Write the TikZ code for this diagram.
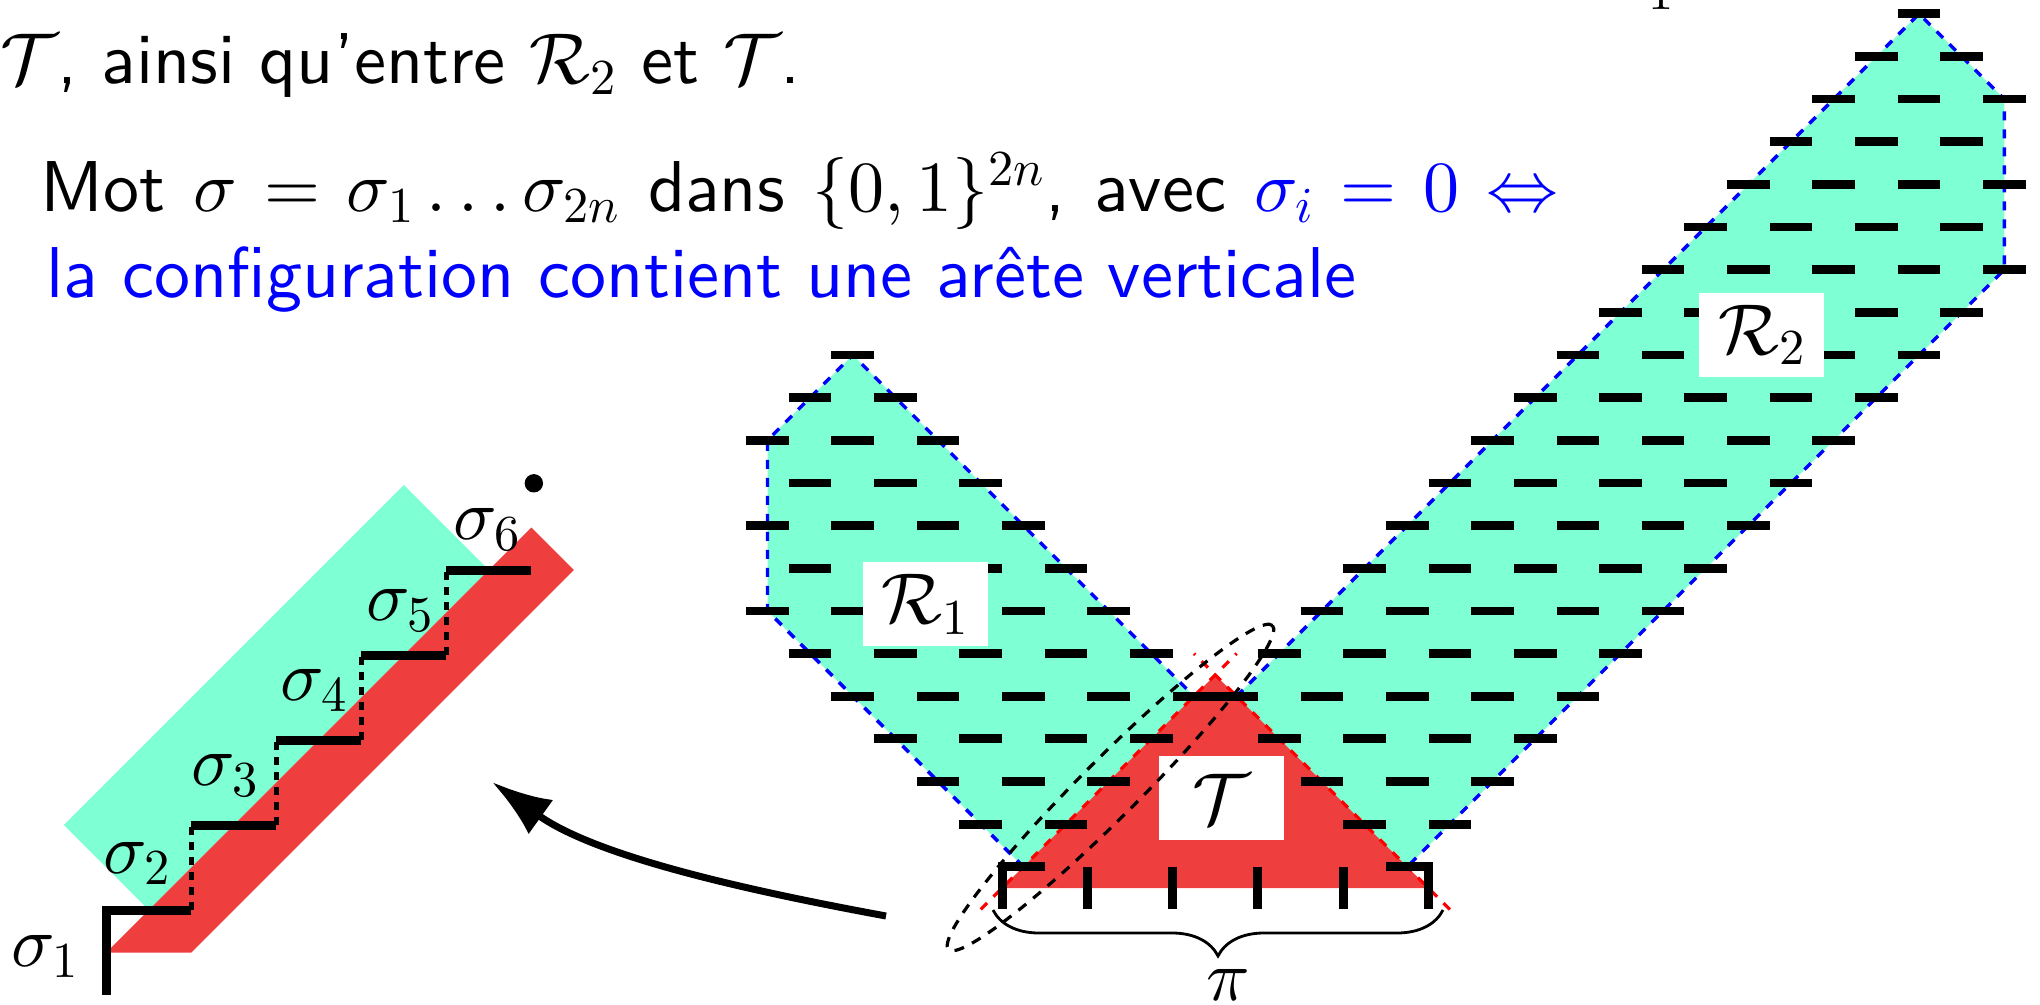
\documentclass[tikz,border=0pt]{standalone}
\usepackage{fix-cm}
\usepackage{fontspec}
\setsansfont{lmsans10-regular.otf}
\DeclareFontShape{OML}{cmm}{m}{it}{<->cmmi10}{}
\DeclareFontShape{OMS}{cmsy}{m}{n}{<->cmsy10}{}
\DeclareFontShape{OT1}{cmr}{m}{n}{<->cmr10}{}
\usetikzlibrary{arrows.meta,decorations.pathreplacing}
\definecolor{aquam}{RGB}{127,255,212}
\definecolor{tred}{RGB}{238,62,62}
\newcommand\bigsf{\fontsize{36}{43}\selectfont\sffamily}
\newcommand\bigmath{\fontsize{36}{43}\selectfont}
\begin{document}
\begin{tikzpicture}[x=0.5pt,y=-0.5pt,
  dsh/.style={line width=4.4pt},
  tickbar/.style={line width=4.5pt},
  bnd/.style={blue, line width=1.7pt, dash pattern=on 4.5pt off 4.5pt},
  rdl/.style={red, line width=1.6pt, dash pattern=on 4.5pt off 4.5pt},
  riser/.style={line width=2.6pt, dash pattern=on 4pt off 3.5pt},
  lbl/.style={fill=white, inner sep=0pt, minimum width=62.5pt, minimum height=42pt, font=\bigmath},
  txt/.style={anchor=base west, inner sep=0pt, font=\bigsf}]
\useasboundingbox (0,0) rectangle (2040,1005);

% ---------- text ----------
\node[txt] (l1) at (0,84) {$\mathcal{T}$, ainsi qu'entre $\mathcal{R}_2$ et $\mathcal{T}$.};
\node[txt] (l2) at (40,212) {\parbox[b]{759pt}{\parfillskip=0pt Mot $\sigma=\sigma_1\ldots\sigma_{2n}$ dans $\{0,1\}^{2n}$, avec \textcolor{blue}{$\sigma_i=0\Leftrightarrow$}}};
\node[txt, text=blue] (l3) at (46,298) {la configuration contient une arête verticale};
\node[anchor=base, inner sep=0pt, font=\fontsize{25.2}{30}\selectfont] (one) at (1661,9.3) {$1$};

% ---------- lattice part ----------
\begin{scope}[shift={(852.8,355)}, x=21.325pt, y=-21.325pt]
  \fill[aquam] (0,0) -- (-2,2) -- (-2,6) -- (4,12) -- (8,8) -- cycle;
  \fill[aquam] (9,8) -- (25,-8) -- (27,-6) -- (27,-2) -- (13,12) -- cycle;
  \draw[bnd] (4,12) -- (-2,6) -- (-2,2) -- (0,0) -- (8,8);
  \draw[bnd] (9,8) -- (25,-8) -- (27,-6) -- (27,-2) -- (13,12);
  \fill[tred] (3.5,12.5) -- (8.5,7.5) -- (13.5,12.5) -- cycle;
  \draw[rdl] (3,13) -- (9,7);
  \draw[rdl] (14,13) -- (8,7);
  \foreach \j in {-8,...,13}{
    \foreach \i in {-2,...,27}{
      \pgfmathtruncatemacro{\ss}{\i+\j}
      \pgfmathtruncatemacro{\dd}{\i-\j}
      \pgfmathtruncatemacro{\pp}{mod(\ss+40,2)}
      \pgfmathtruncatemacro{\inA}{(\pp==0)&&(\ss>=0)&&(\dd<=0)&&(\i>=-2)&&(\dd>=-8)&&(\ss<=16)}
      \pgfmathtruncatemacro{\inB}{(\pp==1)&&(\ss>=17)&&(\ss<=25)&&(\dd>=1)&&(\dd<=33)&&(\i<=27)}
      \ifnum\inA=1 \draw[dsh] (\i-0.5,\j) -- (\i+0.5,\j); \fi
      \ifnum\inB=1 \draw[dsh] (\i-0.5,\j) -- (\i+0.5,\j); \fi
    }
  }
  \draw[tickbar] (4.5,12) -- (3.5,12) -- (3.5,13);
  \foreach \t in {5.5,7.5,9.5,11.5} \draw[tickbar] (\t,12) -- (\t,13);
  \draw[tickbar] (12.5,12) -- (13.5,12) -- (13.5,13);
\end{scope}

\node[lbl] (r1) at (925.4,604.4) {$\mathcal{R}_1$};
\node[lbl] (r2) at (1761.7,335) {$\mathcal{R}_2$};
\node[lbl] (tt) at (1221.3,798.4) {$\mathcal{T}$};

\draw[line width=1.6pt, dash pattern=on 5pt off 4.5pt, rotate around={45:(1110.5,787.5)}]
  (1110.5,787.5) ellipse [x radius=114.5pt, y radius=14.5pt];

\draw[line width=1.4pt, decorate, decoration={brace, mirror, amplitude=23pt}] (993,910) -- (1443,910);
\node[font=\bigmath, inner sep=0pt] (pi) at (1228,985) {$\pi$};

% ---------- arrow ----------
\coordinate (arrS) at (886,916);
\coordinate (arrE) at (492,782);
\draw[line width=3.5pt, -{Latex[length=30pt,width=21pt]}] (arrS) .. controls (756,892) and (598,858) .. (arrE);

% ---------- left zoomed staircase ----------
\begin{scope}[shift={(106.3,910)}, x=42.5pt, y=42.5pt]
  \fill[aquam] (-0.5,1) -- (3.5,5) -- (4.5,4) -- (0.5,0) -- cycle;
  \fill[tred] (0,-0.5) -- (1,-0.5) -- (5.5,4) -- (5,4.5) -- cycle;
  \draw[tickbar] (0,-1) -- (0,0) -- (1,0);
  \foreach \k in {1,...,4} \draw[tickbar] (\k,\k) -- (\k+1,\k);
  \foreach \k in {0,...,3} \draw[riser] (\k+1,\k) -- (\k+1,\k+1);
  \fill (5.03,5.02) circle[radius=4.6pt];
  \node[font=\bigmath] (s1) at (-0.72,-0.55) {$\sigma_1$};
  \node[font=\bigmath] (s2) at (0.36,0.55) {$\sigma_2$};
  \node[font=\bigmath] (s3) at (1.40,1.58) {$\sigma_3$};
  \node[font=\bigmath] (s4) at (2.44,2.58) {$\sigma_4$};
  \node[font=\bigmath] (s5) at (3.46,3.52) {$\sigma_5$};
  \node[font=\bigmath] (s6) at (4.48,4.48) {$\sigma_6$};
\end{scope}
\end{tikzpicture}
\end{document}
